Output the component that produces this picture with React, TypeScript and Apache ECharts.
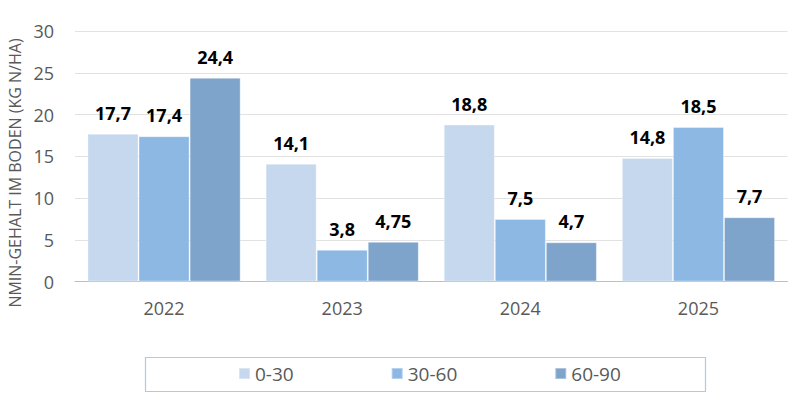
import React, { useEffect, useRef } from "react";
import * as echarts from "echarts";

const categories = ["2022", "2023", "2024", "2025"];
const seriesNames = ["0-30", "30-60", "60-90"];
const values0_30 = [17.7, 14.1, 18.8, 14.8];
const values30_60 = [17.4, 3.8, 7.5, 18.5];
const values60_90 = [24.4, 4.75, 4.7, 7.7];
const yTicks = { min: 0, max: 30, interval: 5 };
const yAxisTitle = "NMIN-GEHALT IM BODEN (KG N/HA)";
const colors = ["#c5d8ee", "#8cb8e3", "#7fa4cb"];

const fmt = (v: number) => String(v).replace(".", ",");

export default function App() {
  const ref = useRef<HTMLDivElement>(null);
  useEffect(() => {
    if (!ref.current) return;
    const chart = echarts.init(ref.current, undefined, { renderer: "svg" });
    const font = "'Open Sans', 'Liberation Sans', sans-serif";
    const data = [values0_30, values30_60, values60_90];
    chart.setOption({
      animation: false,
      textStyle: { fontFamily: font },
      grid: { left: 75, right: 12.5, top: 31, bottom: 117.5 },
      legend: {
        data: seriesNames,
        left: 238,
        top: 364,
        padding: 0,
        itemWidth: 11,
        itemHeight: 11,
        itemGap: 97,
        icon: "rect",
        textStyle: { color: "#595959", fontSize: 19, fontFamily: font },
      },
      graphic: [
        {
          type: "rect",
          shape: { x: 145.5, y: 357.5, width: 560, height: 34 },
          style: { fill: "none", stroke: "#a9cbec", lineWidth: 1.2 },
          z: -1,
        },
        {
          type: "text",
          x: 15,
          y: 173,
          rotation: Math.PI / 2,
          style: {
            text: yAxisTitle,
            fill: "#595959",
            fontSize: 16,
            fontFamily: font,
            align: "center",
            verticalAlign: "middle",
          },
        },
      ],
      xAxis: {
        type: "category",
        data: categories,
        axisTick: { show: false },
        axisLine: { lineStyle: { color: "#bfbfbf" } },
        axisLabel: { color: "#595959", fontSize: 18, margin: 17, fontFamily: font },
      },
      yAxis: {
        type: "value",
        min: yTicks.min,
        max: yTicks.max,
        interval: yTicks.interval,
        axisLabel: { color: "#595959", fontSize: 18, margin: 21, fontFamily: font },
        splitLine: { lineStyle: { color: "#e2e2e2" } },
      },
      series: seriesNames.map((name, i) => ({
        name,
        type: "bar",
        data: data[i],
        barGap: "0%",
        barCategoryGap: "14%",
        itemStyle: { color: colors[i], borderColor: "rgba(255,255,255,0.35)", borderWidth: 1 },
        label: {
          show: true,
          position: "top",
          distance: 12,
          color: "#000",
          fontSize: 18,
          fontWeight: "bold",
          fontFamily: font,
          formatter: (p: any) => fmt(p.value),
        },
      })),
    });
    return () => chart.dispose();
  }, []);
  return <div ref={ref} style={{ width: 800, height: 399, position: "absolute", left: 0, top: 0 }} />;
}
